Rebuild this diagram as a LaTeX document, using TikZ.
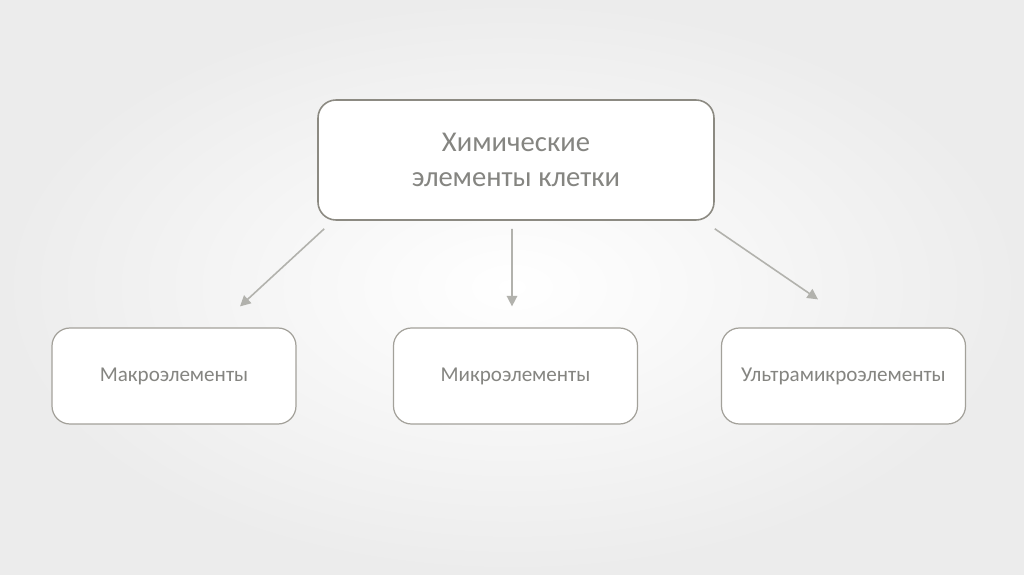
\documentclass[tikz,border=0pt]{standalone}
\usepackage{fontspec}
\setmainfont{Carlito}
\usepackage{tikz}
\usetikzlibrary{arrows.meta,positioning,calc}
\definecolor{ceInk}{HTML}{858581}
\definecolor{ceFrame}{HTML}{8C8A82}
\definecolor{ceFrameLight}{HTML}{A3A19A}
\definecolor{ceArrow}{HTML}{B2B2AD}
\definecolor{ceBgOut}{HTML}{ECECEC}
\tikzset{
  % Main (top) box
  mainbox/.style={rectangle,rounded corners=0.36cm,
    minimum width=7.92cm,minimum height=2.4cm,
    align=center,draw=ceFrame,line width=0.9pt,fill=white,
    font=\fontsize{16.3}{19.8}\selectfont,text=ceInk},
  % Element group box
  elbox/.style={rectangle,rounded corners=0.36cm,
    minimum width=4.88cm,minimum height=1.92cm,
    align=center,draw=ceFrameLight,line width=0.7pt,fill=white,
    font=\fontsize{12}{14}\selectfont,text=ceInk},
  % Arrows
  arr/.style={-{Triangle[length=6pt,width=6pt]},line width=0.9pt,color=ceArrow},
}
\begin{document}
\begin{tikzpicture}
  % Background
  \shade[inner color=white,outer color=ceBgOut] (0,0) rectangle (20.48,11.48);
  \useasboundingbox (0,0) rectangle (20.48,11.48);

  % Boxes
  \node[mainbox] (chem) at (10.32,8.28) {Химические\\элементы клетки};
  \node[elbox] (macro) at (3.48,3.96) {Макроэлементы};
  \node[elbox] (micro) at (10.31,3.96) {Микроэлементы};
  \node[elbox] (ultra) at (16.87,3.96) {Ультрамикроэлементы};

  % Arrow ends
  \coordinate (macroS) at ($(chem.south west)+(0.14,-0.16)$);
  \coordinate (macroE) at ($(macro.north)+(1.32,0.42)$);
  \coordinate (microS) at ($(chem.south)+(-0.08,-0.16)$);
  \coordinate (microE) at ($(micro.north)+(-0.07,0.42)$);
  \coordinate (ultraS) at ($(chem.south east)+(0,-0.16)$);
  \coordinate (ultraE) at ($(ultra.north)+(-0.51,0.56)$);

  % Arrows
  \draw[arr] (macroS) -- (macroE);
  \draw[arr] (microS) -- (microE);
  \draw[arr] (ultraS) -- (ultraE);
\end{tikzpicture}
\end{document}
